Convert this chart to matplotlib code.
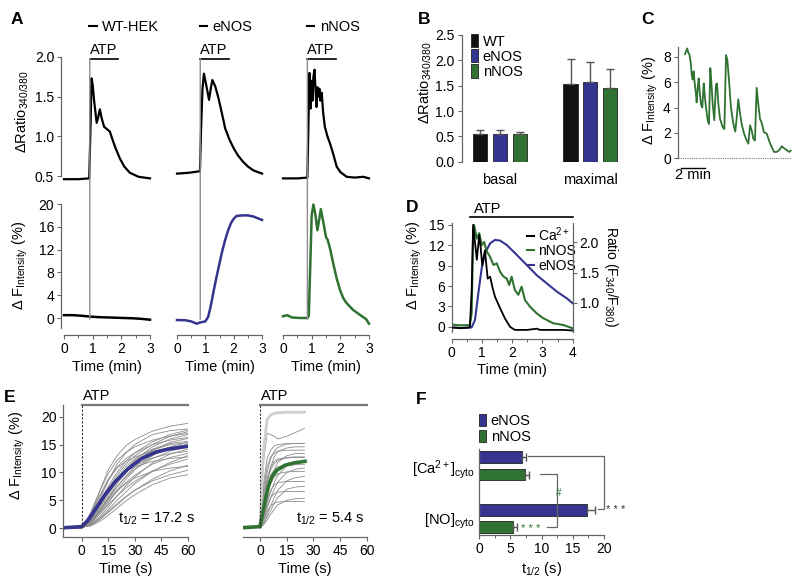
import matplotlib
matplotlib.use('Agg')
import numpy as np
import matplotlib.pyplot as plt
from matplotlib.patches import ConnectionPatch, Patch
from matplotlib.lines import Line2D

plt.rcParams['font.family'] = ['Liberation Sans', 'DejaVu Sans']
plt.rcParams['mathtext.fontset'] = 'custom'
plt.rcParams['mathtext.rm'] = 'Liberation Sans'
plt.rcParams['mathtext.it'] = 'Liberation Sans:italic'
plt.rcParams['mathtext.bf'] = 'Liberation Sans:bold'
plt.rcParams['font.size'] = 10

BLUE = '#35358f'
GREEN = '#2f7232'
GREY = '#8c8c8c'
SPINE = '#666666'
LFS = 10.5   # label font size
TFS = 10     # tick font size

# ---------------- data: panel A (time in min) ----------------
wt_ca_t = [0, 0.5, 0.88, 0.93, 0.96, 1.0, 1.05, 1.14, 1.2, 1.25, 1.32, 1.4, 1.5, 1.6, 1.7, 1.8, 1.95, 2.1, 2.3, 2.6, 3.0]
wt_ca = [0.46, 0.46, 0.47, 1.2, 1.73, 1.65, 1.45, 1.17, 1.25, 1.34, 1.22, 1.12, 1.09, 1.06, 0.95, 0.85, 0.72, 0.62, 0.54, 0.49, 0.47]
enos_ca_t = [0, 0.4, 0.81, 0.85, 0.9, 0.95, 1.03, 1.13, 1.2, 1.25, 1.35, 1.45, 1.58, 1.7, 1.85, 2.0, 2.15, 2.33, 2.5, 2.7, 3.0]
enos_ca = [0.53, 0.54, 0.56, 1.1, 1.6, 1.79, 1.65, 1.46, 1.62, 1.71, 1.63, 1.5, 1.3, 1.1, 0.96, 0.85, 0.76, 0.68, 0.62, 0.57, 0.53]
nnos_ca_t = [0, 0.5, 0.85, 0.89, 0.92, 0.96, 1.0, 1.03, 1.06, 1.1, 1.14, 1.17, 1.2, 1.23, 1.27, 1.3, 1.35, 1.4,
             1.46, 1.55, 1.64, 1.75, 1.87, 2.0, 2.22, 2.5, 2.8, 3.0]
nnos_ca = [0.47, 0.47, 0.48, 1.2, 1.8, 1.35, 1.7, 1.45, 1.75, 1.84, 1.55, 1.37, 1.62, 1.5, 1.6, 1.45, 1.55, 1.3,
           1.12, 1.0, 0.91, 0.78, 0.62, 0.55, 0.49, 0.48, 0.49, 0.47]

wt_f_t = [0, 0.3, 0.6, 0.9, 1.2, 1.5, 1.8, 2.1, 2.4, 2.7, 3.0]
wt_f = [0.5, 0.5, 0.4, 0.25, 0.15, 0.1, 0.05, 0.0, -0.05, -0.15, -0.3]
enos_f_t = [0, 0.3, 0.5, 0.7, 0.8, 0.9, 1.0, 1.1, 1.2, 1.3, 1.4, 1.5, 1.6, 1.7, 1.8, 1.9, 2.0, 2.1, 2.3, 2.5, 2.7, 2.85, 3.0]
enos_f = [-0.35, -0.4, -0.6, -1.0, -0.8, -0.7, -0.6, 0.2, 2.3, 4.9, 7.3, 9.6, 11.8, 13.7, 15.3, 16.6, 17.4, 17.9,
          18.0, 18.0, 17.8, 17.5, 17.2]
nnos_f_t = [0, 0.15, 0.3, 0.6, 0.85, 0.9, 0.95, 1.0, 1.06, 1.12, 1.2, 1.26, 1.32, 1.4, 1.5, 1.56, 1.65, 1.75,
            1.87, 1.99, 2.1, 2.22, 2.45, 2.7, 2.9, 3.0]
nnos_f = [0.3, 0.5, 0.1, 0.0, 0.0, 0.4, 9.0, 18.0, 19.9, 18.5, 15.4, 17.2, 19.1, 17.0, 14.2, 13.7, 12.0, 9.6,
          7.0, 4.9, 3.5, 2.6, 1.4, 0.5, -0.2, -1.0]
atp_on = [0.9, 0.82, 0.85]

# ---------------- data: panel B ----------------
b_groups = ['basal', 'maximal']
wt_mean = [0.545, 1.53]
wt_err = [0.085, 0.50]
enos_mean = [0.545, 1.58]
enos_err = [0.075, 0.38]
nnos_mean = [0.54, 1.46]
nnos_err = [0.045, 0.37]

# ---------------- data: panel C ----------------
c_t = [0, 0.08, 0.19, 0.28, 0.36, 0.47, 0.56, 0.64, 0.72, 0.81, 0.92, 0.97, 1.06, 1.14, 1.22, 1.33, 1.44, 1.56,
       1.64, 1.75, 1.89, 2.0, 2.11, 2.19, 2.31, 2.44, 2.58, 2.67, 2.78, 2.92, 3.14, 3.28, 3.42, 3.53, 3.67, 3.83,
       4.03, 4.19, 4.31, 4.44, 4.58, 4.72, 4.92, 5.14, 5.28, 5.42, 5.56, 5.69, 5.83, 5.97, 6.11, 6.25, 6.39,
       6.58, 6.81, 7.0, 7.22, 7.42, 7.64, 7.86, 8.06, 8.25, 8.47, 8.69, 8.81]
c_f = [8.2, 8.4, 8.65, 8.3, 8.2, 7.6, 6.6, 6.2, 6.85, 5.9, 5.0, 4.4, 5.55, 6.3, 5.3, 4.25, 4.0, 5.9,
       5.0, 4.0, 3.0, 2.7, 7.1, 6.1, 4.25, 3.0, 5.8, 5.9, 4.25, 3.1, 2.45, 2.3, 8.13, 7.75, 6.1, 4.0,
       2.7, 2.1, 3.2, 4.65, 3.6, 2.7, 1.95, 1.4, 1.15, 2.6, 2.2, 1.55, 1.4, 5.55, 4.25, 3.1, 2.8,
       2.05, 1.95, 1.4, 0.9, 0.5, 0.5, 0.65, 0.95, 0.8, 0.65, 0.5, 0.6]

# ---------------- data: panel D ----------------
d_ca_t = [0, 0.3, 0.6, 0.66, 0.71, 0.77, 0.83, 0.91, 0.96, 1.01, 1.1, 1.15, 1.19, 1.27, 1.35, 1.43, 1.6, 1.76,
          1.93, 2.09, 2.5, 2.81, 2.92, 3.3, 3.7, 4.0]
d_ca = [0.59, 0.58, 0.59, 1.2, 2.29, 2.0, 1.71, 2.12, 1.9, 1.62, 1.87, 1.6, 1.40, 1.43, 1.25, 1.10, 0.91, 0.74,
        0.60, 0.55, 0.55, 0.57, 0.55, 0.55, 0.55, 0.54]
d_nnos_t = [0, 0.3, 0.6, 0.66, 0.71, 0.74, 0.83, 0.91, 0.99, 1.07, 1.16, 1.27, 1.38, 1.49, 1.6, 1.71, 1.82, 1.9,
            1.98, 2.09, 2.2, 2.31, 2.42, 2.59, 2.81, 3.03, 3.36, 3.69, 4.0]
d_nnos = [0.3, 0.2, 0.25, 2.0, 14.3, 15.0, 13.0, 13.8, 12.0, 12.5, 11.1, 10.3, 9.1, 9.35, 8.1, 7.4, 7.1, 6.15,
          7.37, 5.4, 4.7, 5.9, 3.94, 2.95, 1.97, 1.24, 0.5, 0.25, -0.24]
d_enos_t = [0, 0.3, 0.66, 0.77, 0.88, 0.99, 1.1, 1.27, 1.43, 1.6, 1.82, 2.15, 2.48, 2.81, 3.14, 3.47, 3.8, 4.0]
d_enos = [-0.1, -0.2, -0.1, 1.0, 4.9, 8.6, 10.8, 12.3, 12.8, 12.7, 12.05, 10.6, 9.1, 7.6, 6.4, 5.2, 4.2, 3.45]

# ---------------- data: panel E (time in s) ----------------
e_left_t = [-10, 0, 5, 10, 15, 20, 25, 30, 40, 50, 60]
e_left_cells = [
    [0, 0.2, 2.5, 6.5, 10.5, 13.0, 14.8, 15.9, 17.4, 18.3, 18.8],
    [0, 0.1, 2.0, 5.0, 8.5, 11.5, 13.5, 15.0, 16.8, 17.5, 17.8],
    [0.1, 0.3, 1.8, 4.5, 7.5, 10.0, 12.0, 13.5, 15.5, 16.8, 17.6],
    [0, 0.2, 1.5, 4.0, 7.0, 9.5, 11.5, 13.0, 15.0, 16.5, 17.3],
    [0, 0.1, 1.2, 3.5, 6.0, 8.5, 10.5, 12.2, 14.6, 16.0, 16.8],
    [0.1, 0.2, 2.2, 5.5, 8.5, 11.0, 12.5, 13.5, 15.0, 15.8, 16.3],
    [0, 0.3, 1.0, 3.0, 5.5, 8.0, 10.0, 11.8, 14.0, 15.4, 16.1],
    [0, 0.2, 1.5, 3.8, 6.5, 9.0, 11.0, 12.5, 14.2, 15.2, 15.6],
    [0, 0.1, 0.8, 2.5, 4.5, 6.8, 8.8, 10.5, 13.0, 14.6, 15.4],
    [0, 0.3, 2.5, 5.8, 8.8, 10.8, 12.0, 12.8, 13.8, 14.5, 15.0],
    [0, 0.2, 1.2, 3.2, 5.5, 7.5, 9.2, 10.6, 12.5, 13.8, 14.6],
    [0, 0.1, 0.7, 2.0, 3.8, 5.8, 7.6, 9.2, 11.7, 13.3, 14.2],
    [0, 0.2, 1.8, 4.5, 7.0, 9.0, 10.4, 11.4, 12.6, 13.4, 13.8],
    [0, 0.1, 1.0, 2.8, 4.8, 6.6, 8.2, 9.5, 11.5, 12.7, 13.4],
    [0, 0.2, 0.6, 1.8, 3.3, 5.0, 6.5, 8.0, 10.2, 11.8, 13.0],
    [0, 0.3, 2.0, 4.8, 7.2, 9.0, 10.2, 11.0, 12.0, 12.5, 12.8],
    [0, 0.1, 0.9, 2.5, 4.2, 5.8, 7.2, 8.4, 10.3, 11.5, 12.4],
    [0, 0.2, 0.5, 1.5, 2.8, 4.2, 5.6, 6.8, 8.8, 10.3, 11.3],
    [0, 0.2, 1.3, 3.2, 5.2, 6.8, 8.0, 9.0, 10.2, 10.8, 11.1],
    [0, 0.1, 0.6, 1.6, 3.0, 4.4, 5.7, 6.8, 8.5, 9.6, 10.4],
    [0, 0.2, 0.4, 1.2, 2.3, 3.6, 4.9, 6.0, 7.8, 9.0, 9.6],
    [0, 0.3, 1.6, 4.0, 6.5, 8.8, 10.5, 12.0, 14.0, 15.0, 15.3],
    [0, 0.2, 1.1, 3.0, 5.2, 7.4, 9.4, 11.0, 13.2, 14.2, 14.6],
    [0, 0.1, 2.8, 6.5, 9.8, 12.2, 13.6, 14.6, 15.8, 16.5, 17.0],
]
e_enos_t = [-10, 0, 3.8, 7.5, 13.2, 18.9, 26.4, 33.9, 41.5, 49, 60]
e_enos_mean = [0.1, 0.3, 1.5, 3.3, 6.0, 8.3, 10.7, 12.5, 13.6, 14.2, 14.7]

e_right_t = [-10, 0, 2, 4, 6, 8, 10, 15, 20, 25]
e_right_cells = [
    [0.1, 0.4, 12.0, 17.0, 16.8, 16.5, 16.0, 16.5, 17.2, 17.9],
    [0.2, 0.3, 6.0, 10.0, 12.5, 13.8, 14.5, 15.1, 15.2, 15.2],
    [0.1, 0.2, 4.0, 8.0, 11.0, 12.8, 13.8, 14.4, 14.6, 14.6],
    [0.0, 0.3, 7.0, 11.0, 12.8, 13.5, 13.8, 14.0, 14.0, 14.0],
    [0.2, 0.2, 3.0, 6.0, 8.5, 10.5, 11.8, 13.0, 13.4, 13.4],
    [0.1, 0.3, 5.0, 9.0, 11.0, 12.0, 12.4, 12.7, 12.8, 12.8],
    [0.2, 0.2, 2.0, 4.5, 6.5, 8.2, 9.5, 11.2, 11.8, 12.0],
    [0.1, 0.3, 4.0, 7.5, 9.5, 10.5, 11.0, 11.3, 11.4, 11.4],
    [0.2, 0.2, 1.5, 3.5, 5.5, 7.0, 8.3, 10.0, 10.6, 10.8],
    [0.1, 0.3, 3.0, 6.0, 8.0, 9.2, 9.8, 10.1, 10.2, 10.2],
    [0.2, 0.2, 1.0, 2.5, 4.0, 5.5, 6.8, 8.5, 9.1, 9.3],
    [0.1, 0.2, 2.5, 5.0, 6.8, 7.8, 8.2, 8.4, 8.4, 8.4],
    [0.2, 0.3, 0.8, 2.0, 3.2, 4.5, 5.5, 7.0, 7.4, 7.5],
    [0.1, 0.2, 2.0, 4.0, 5.5, 6.2, 6.5, 6.6, 6.6, 6.6],
    [0.2, 0.2, 0.6, 1.5, 2.5, 3.4, 4.2, 5.0, 5.3, 5.4],
    [0.1, 0.3, 1.5, 3.0, 4.0, 4.5, 4.7, 4.8, 4.8, 4.8],
    [0.2, 0.3, 8.0, 12.5, 14.0, 14.8, 15.0, 15.2, 15.2, 15.2],
    [0.1, 0.2, 5.0, 8.5, 10.5, 11.6, 12.2, 12.6, 12.7, 12.7],
]
e_right_top = [0.2, 0.3, 14.0, 19.5, 20.3, 20.6, 20.7, 20.8, 20.8, 20.8]
e_nnos_t = [-10, 0, 2.8, 4.7, 6.6, 9.4, 14, 19.7, 25.3]
e_nnos_mean = [0.1, 0.3, 4.8, 7.5, 9.2, 10.4, 11.3, 11.75, 12.0]

# ---------------- data: panel F ----------------
f_labels = ['[Ca$^{2+}$]$_{\\mathrm{cyto}}$', '[NO]$_{\\mathrm{cyto}}$']
f_enos = [6.8, 17.3]
f_enos_err = [0.7, 1.25]
f_nnos = [7.35, 5.5]
f_nnos_err = [0.65, 0.5]

W, H = 800, 580
fig = plt.figure(figsize=(8, 5.8), dpi=100)


def box(xcal, ycal, xlim, ylim):
    # xcal / ycal: two data values with the pixel they sit at in the reference
    xd0, xp0, xd1, xp1 = xcal
    yd0, yp0, yd1, yp1 = ycal
    sx = (xp1 - xp0) / (xd1 - xd0)
    sy = (yp1 - yp0) / (yd1 - yd0)
    left = xp0 + (xlim[0] - xd0) * sx
    right = xp0 + (xlim[1] - xd0) * sx
    bottom = yp0 + (ylim[0] - yd0) * sy
    top = yp0 + (ylim[1] - yd0) * sy
    ax = fig.add_axes([left / W, 1 - bottom / H, (right - left) / W, (bottom - top) / H])
    ax.set_xlim(xlim)
    ax.set_ylim(ylim)
    ax.patch.set_alpha(0)
    for s in ax.spines.values():
        s.set_color(SPINE)
        s.set_linewidth(0.9)
    ax.spines['top'].set_visible(False)
    ax.spines['right'].set_visible(False)
    ax.tick_params(colors=SPINE, labelcolor='black', length=3, width=0.8, labelsize=TFS, pad=2)
    ax.tick_params(which='minor', length=2, width=0.7, colors=SPINE)
    return ax


def ftext(x, y, s, **kw):
    return fig.text(x / W, 1 - y / H, s, **kw)


# ---------------- panel A ----------------
cols = [(64, 150, wt_ca_t, wt_ca, wt_f_t, wt_f, 'black', 'WT-HEK'),
        (177, 262, enos_ca_t, enos_ca, enos_f_t, enos_f, BLUE, 'eNOS'),
        (283, 369, nnos_ca_t, nnos_ca, nnos_f_t, nnos_f, GREEN, 'nNOS')]
for i, (p0, p3, ct, cv, ft, fv, col, name) in enumerate(cols):
    ts = atp_on[i]
    top = box((0, p0, 3, p3), (0.5, 176, 2.0, 57), (-0.1, 3.1), (0.35, 2.1))
    bot = box((0, p0, 3, p3), (0, 318, 20, 204), (-0.1, 3.1), (-3, 21))
    top.plot(ct, cv, color='black', lw=1.6)
    bot.plot(ft, fv, color=col, lw=1.8)
    top.spines['bottom'].set_visible(False)
    top.set_xticks([])
    if i == 0:
        top.spines['left'].set_bounds(0.5, 2.0)
        top.set_yticks([0.5, 1.0, 1.5, 2.0], ['0.5', '1.0', '1.5', '2.0'])
        bot.spines['left'].set_bounds(-1.8, 20)
        bot.set_yticks([0, 4, 8, 12, 16, 20])
    else:
        top.spines['left'].set_visible(False)
        bot.spines['left'].set_visible(False)
        top.set_yticks([])
        bot.set_yticks([])
    bot.spines['bottom'].set_bounds(0, 3)
    bot.set_xticks([0, 1, 2, 3])
    bot.set_xticks([0.5, 1.5, 2.5], minor=True)
    bot.set_xlabel('Time (min)', fontsize=LFS, labelpad=3)
    top.plot([ts, ts + 1.0], [1.98, 1.98], color='black', lw=1.2, clip_on=False)
    top.text(ts, 2.0, 'ATP', ha='left', va='bottom', fontsize=LFS)
    fig.add_artist(ConnectionPatch(xyA=(ts, 1.98), coordsA=top.transData,
                                   xyB=(ts, -0.2), coordsB=bot.transData,
                                   color=GREY, lw=1.0))
    top.legend(handles=[Line2D([], [], color='black', lw=1.5)], labels=[name],
               loc='center left', bbox_to_anchor=(ts - 0.02, 2.38), bbox_transform=top.transData,
               frameon=False, handlelength=0.5, handletextpad=0.4, borderpad=0, borderaxespad=0,
               fontsize=LFS)

ftext(22, 112, 'ΔRatio$_{340/380}$', rotation=90, ha='center', va='center', fontsize=LFS)
ftext(20, 265, 'Δ F$_{\\mathrm{Intensity}}$ (%)', rotation=90, ha='center', va='center', fontsize=LFS)

# ---------------- panel B ----------------
axb = box((0, 500, 1, 590.3), (0, 161.7, 2.5, 35), (-0.426, 1.45), (0, 2.62))
gx = np.arange(len(b_groups))
for off, mean, err, c in [(-0.219, wt_mean, wt_err, '#111111'),
                          (0.0, enos_mean, enos_err, BLUE),
                          (0.219, nnos_mean, nnos_err, GREEN)]:
    axb.bar(gx + off, mean, 0.156, color=c, edgecolor='#222222', lw=0.6,
            yerr=[np.zeros(len(err)), err],
            error_kw=dict(ecolor='#555555', elinewidth=1, capsize=3, capthick=1))
axb.spines['bottom'].set_visible(False)
axb.spines['left'].set_bounds(0, 2.5)
axb.set_yticks([0, 0.5, 1.0, 1.5, 2.0, 2.5], ['0.0', '0.5', '1.0', '1.5', '2.0', '2.5'])
axb.set_xticks(gx, b_groups)
axb.tick_params(axis='x', length=0, pad=8, labelsize=LFS)
axb.legend(handles=[Patch(facecolor=c, edgecolor='#222222', lw=0.6) for c in ['#111111', BLUE, GREEN]],
           labels=['WT', 'eNOS', 'nNOS'], loc='upper left', bbox_to_anchor=(471 / W, 1 - 34 / H),
           bbox_transform=fig.transFigure, frameon=False, handlelength=0.45, handleheight=1.0,
           handletextpad=0.35, labelspacing=0.05, borderpad=0, borderaxespad=0, fontsize=LFS)
ftext(425, 83, 'ΔRatio$_{340/380}$', rotation=90, ha='center', va='center', fontsize=LFS)

# ---------------- panel C ----------------
axc = box((0, 685, 2, 709), (0, 158.3, 8, 56.7), (-0.6, 8.9), (-1.0, 8.9))
axc.plot(c_t, c_f, color=GREEN, lw=1.3)
axc.axhline(0, ls=(0, (1, 1)), color='#777777', lw=0.8)
axc.spines['bottom'].set_visible(False)
axc.spines['left'].set_bounds(0, 8.8)
axc.set_xticks([])
axc.set_yticks([0, 2, 4, 6, 8])
axc.plot([-0.33, 1.67], [-0.75, -0.75], color='black', lw=1.0, clip_on=False)
axc.text(0.7, -1.35, '2 min', ha='center', va='center', fontsize=LFS)
ftext(650, 100, 'Δ F$_{\\mathrm{Intensity}}$ (%)', rotation=90, ha='center', va='center', fontsize=LFS)

# ---------------- panel D ----------------
axd = box((0, 451.7, 4, 572.7), (0, 326.7, 15, 225), (0, 4), (-0.74, 15.3))
axd2 = axd.twinx()
axd2.set_ylim(0.52, 2.32)
axd2.patch.set_alpha(0)
for s in ['top', 'left', 'bottom']:
    axd2.spines[s].set_visible(False)
axd2.spines['right'].set_color(SPINE)
axd2.spines['right'].set_linewidth(0.9)
axd2.tick_params(colors=SPINE, labelcolor='black', length=3, width=0.8, labelsize=TFS, pad=2)
axd2.set_yticks([1.0, 1.5, 2.0], ['1.0', '1.5', '2.0'])
axd.plot(d_enos_t, d_enos, color=BLUE, lw=1.5)
axd.plot(d_nnos_t, d_nnos, color=GREEN, lw=1.5)
axd2.plot(d_ca_t, d_ca, color='black', lw=1.3)
axd.spines['bottom'].set_position(('outward', 5.5))
axd.set_xticks([0, 1, 2, 3, 4])
axd.set_xticks([0.5, 1.5, 2.5, 3.5], minor=True)
axd.set_yticks([0, 3, 6, 9, 12, 15])
axd.set_xlabel('Time (min)', fontsize=LFS, labelpad=2)
axd.plot([0.6, 4.0], [16.2, 16.2], color='black', lw=1.2, clip_on=False)
axd.text(0.75, 16.4, 'ATP', ha='left', va='bottom', fontsize=LFS)
axd.legend(handles=[Line2D([], [], color=c, lw=1.5) for c in ['black', GREEN, BLUE]],
           labels=['Ca$^{2+}$', 'nNOS', 'eNOS'], loc='upper left',
           bbox_to_anchor=(527 / W, 1 - 225 / H), bbox_transform=fig.transFigure, frameon=False,
           handlelength=0.5, handletextpad=0.3, labelspacing=0.05, borderpad=0, borderaxespad=0,
           fontsize=10)
ftext(414, 265, 'Δ F$_{\\mathrm{Intensity}}$ (%)', rotation=90, ha='center', va='center', fontsize=LFS)
ftext(611, 276, 'Ratio (F$_{340}$/F$_{380}$)', rotation=270, ha='center', va='center', fontsize=10)

# ---------------- panel E ----------------
axe1 = box((0, 81.7, 60, 187.7), (0, 528.3, 20, 416.7), (-10.4, 60), (-1.5, 22.1))
axe2 = box((0, 260, 60, 366.7), (0, 528.3, 20, 416.7), (-9.8, 60), (-1.5, 22.1))
for cell in e_left_cells:
    axe1.plot(e_left_t, cell, color=GREY, lw=0.6)
axe1.plot(e_enos_t, e_enos_mean, color=BLUE, lw=2.6)
for cell in e_right_cells:
    axe2.plot(e_right_t, cell, color=GREY, lw=0.6)
axe2.plot(e_right_t, e_right_top, color='#cfcfcf', lw=2.0)
axe2.plot(e_nnos_t, e_nnos_mean, color=GREEN, lw=2.6)
for ax, t12, xr in [(axe1, 't$_{1/2}$ = 17.2 s', 64), (axe2, 't$_{1/2}$ = 5.4 s', 59)]:
    ax.plot([0, 0], [0, 22.1], color='#333333', lw=0.8, ls=(0, (2, 1.5)), clip_on=False)
    ax.plot([0, 60], [22.1, 22.1], color='#777777', lw=1.6, clip_on=False)
    ax.text(0.5, 22.5, 'ATP', ha='left', va='bottom', fontsize=LFS)
    ax.text(xr, 1.7, t12, ha='right', va='center', fontsize=LFS)
    ax.set_xticks([0, 15, 30, 45, 60])
    ax.set_xlabel('Time (s)', fontsize=LFS, labelpad=3)
axe1.set_yticks([0, 5, 10, 15, 20])
axe2.spines['left'].set_visible(False)
axe2.set_yticks([])
ftext(17, 455, 'Δ F$_{\\mathrm{Intensity}}$ (%)', rotation=90, ha='center', va='center', fontsize=LFS)

# ---------------- panel F ----------------
axf = box((0, 479, 20, 604), (0, 518.5, 1, 465.75), (0, 20), (-0.313, 1.318))
fy = np.array([1, 0])
ek = dict(ecolor='#555555', elinewidth=1, capsize=3, capthick=1)
axf.barh(fy + 0.166, f_enos, 0.222, color=BLUE, edgecolor='#222222', lw=0.6,
         xerr=[np.zeros(2), f_enos_err], error_kw=ek)
axf.barh(fy - 0.166, f_nnos, 0.222, color=GREEN, edgecolor='#222222', lw=0.6,
         xerr=[np.zeros(2), f_nnos_err], error_kw=ek)
axf.set_yticks(fy, f_labels)
axf.tick_params(axis='y', length=0, pad=3, labelsize=LFS)
axf.set_xticks([0, 5, 10, 15, 20])
axf.set_xticks([2.5, 7.5, 12.5, 17.5], minor=True)
axf.set_xlabel('t$_{1/2}$ (s)', fontsize=LFS, labelpad=3)
axf.plot([7.9, 20, 20, 19.1], [1.18, 1.18, 0.18, 0.18], color='#666666', lw=0.9, clip_on=False)
axf.plot([9.8, 12.4, 12.4, 10.8], [0.84, 0.84, -0.16, -0.16], color='#666666', lw=0.9, clip_on=False)
axf.text(20.3, 0.16, '* * *', ha='left', va='center', fontsize=8, color='#333333')
axf.text(6.7, -0.19, '* * *', ha='left', va='center', fontsize=8, color=GREEN)
axf.text(12.7, 0.48, '#', ha='center', va='center', fontsize=7, color=GREEN)
axf.legend(handles=[Patch(facecolor=c, edgecolor='#222222', lw=0.6) for c in [BLUE, GREEN]],
           labels=['eNOS', 'nNOS'], loc='upper left', bbox_to_anchor=(479 / W, 1 - 414 / H),
           bbox_transform=fig.transFigure, frameon=False, handlelength=0.45, handleheight=0.9,
           handletextpad=0.35, labelspacing=0.1, borderpad=0, borderaxespad=0, fontsize=LFS)

# ---------------- panel letters ----------------
for s, x, y in [('A', 17, 20), ('B', 424, 19), ('C', 648, 19), ('D', 412, 207), ('E', 10, 398), ('F', 421, 399)]:
    ftext(x, y, s, ha='center', va='center', fontsize=12.5, fontweight='bold')

fig.savefig('out.png', dpi=100)
